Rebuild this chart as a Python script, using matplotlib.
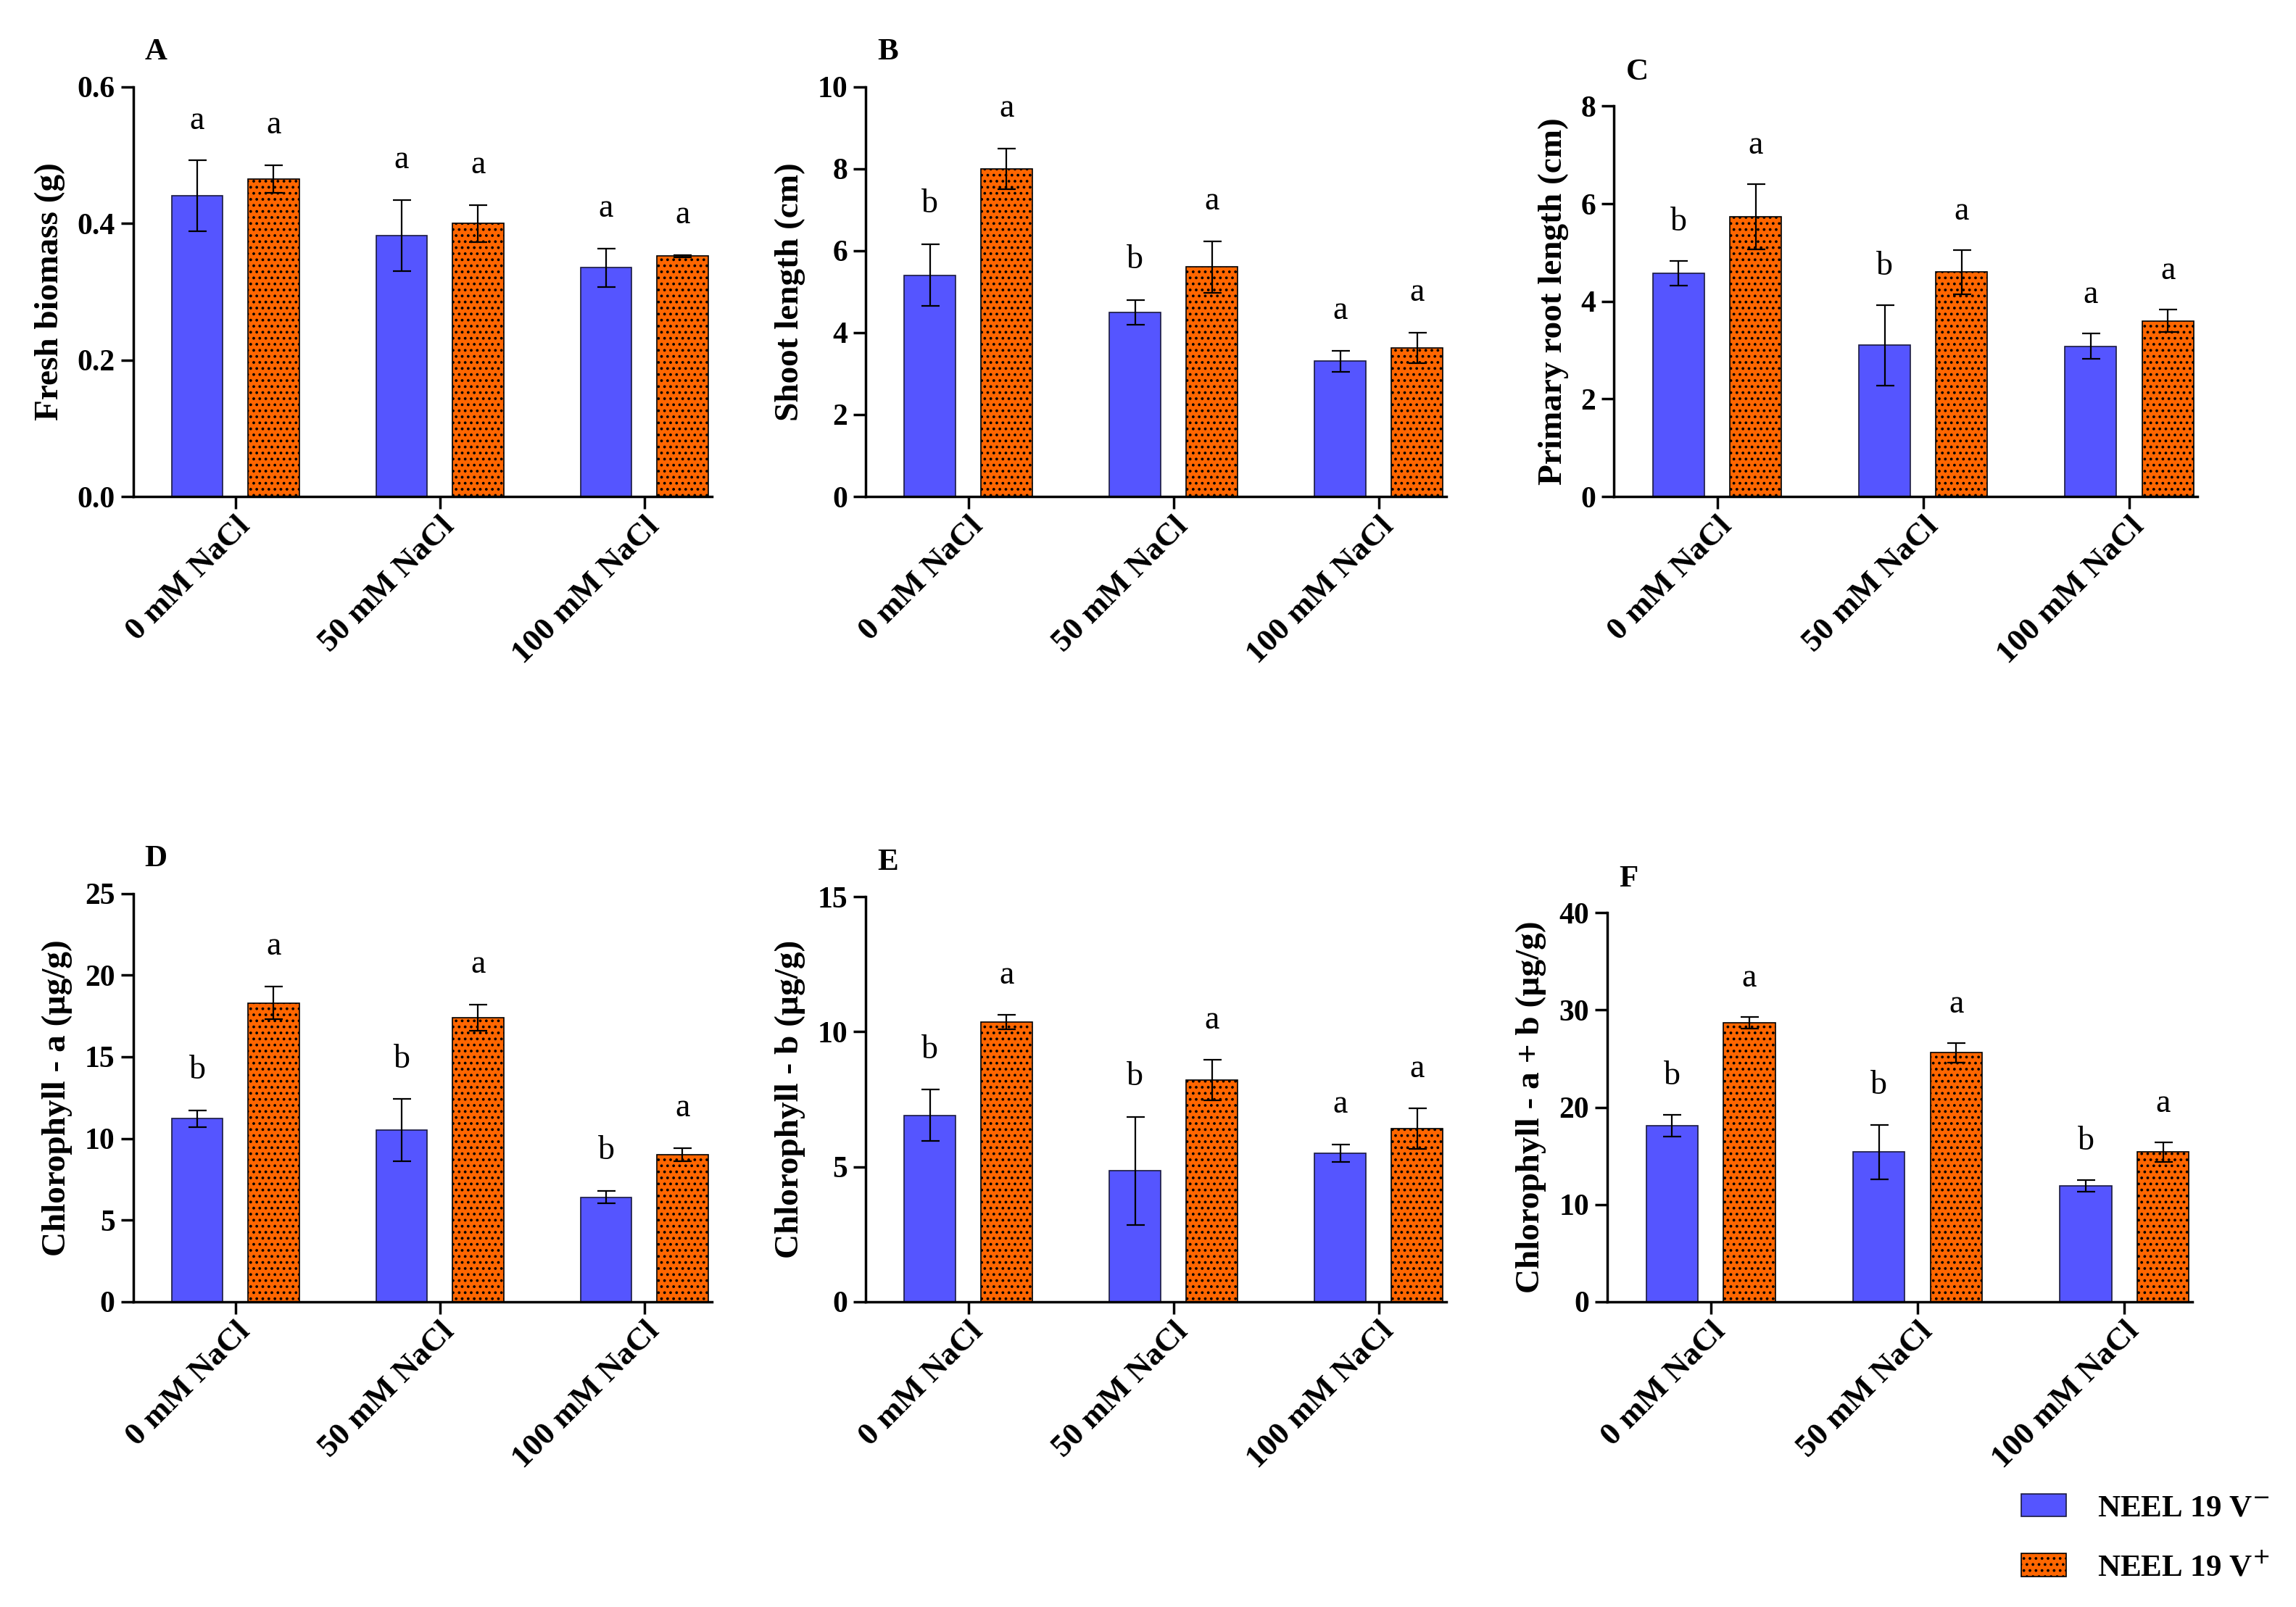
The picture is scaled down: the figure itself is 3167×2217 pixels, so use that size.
import matplotlib.pyplot as plt
import numpy as np
from matplotlib.patches import Patch

plt.rcParams['font.family'] = ['Liberation Serif', 'DejaVu Serif']
plt.rcParams['hatch.color'] = 'black'
plt.rcParams['hatch.linewidth'] = 1.5

groups = ['0 mM NaCl', '50 mM NaCl', '100 mM NaCl']
series = ['NEEL 19 V$^{-}$', 'NEEL 19 V$^{+}$']
blue = '#5555FF'
orange = '#FF6600'

# panel data: mean and error for V- and V+
fresh_neg = [0.44, 0.382, 0.335]
fresh_neg_err = [0.052, 0.052, 0.028]
fresh_pos = [0.465, 0.400, 0.352]
fresh_pos_err = [0.020, 0.027, 0.002]

shoot_neg = [5.4, 4.5, 3.3]
shoot_neg_err = [0.75, 0.30, 0.25]
shoot_pos = [8.0, 5.6, 3.63]
shoot_pos_err = [0.50, 0.62, 0.37]

root_neg = [4.57, 3.1, 3.08]
root_neg_err = [0.25, 0.82, 0.26]
root_pos = [5.73, 4.6, 3.6]
root_pos_err = [0.67, 0.45, 0.23]

chla_neg = [11.2, 10.5, 6.4]
chla_neg_err = [0.5, 1.9, 0.37]
chla_pos = [18.3, 17.4, 9.0]
chla_pos_err = [1.0, 0.8, 0.4]

chlb_neg = [6.9, 4.85, 5.5]
chlb_neg_err = [0.95, 2.0, 0.33]
chlb_pos = [10.35, 8.2, 6.4]
chlb_pos_err = [0.27, 0.75, 0.75]

chlab_neg = [18.1, 15.4, 11.9]
chlab_neg_err = [1.1, 2.8, 0.6]
chlab_pos = [28.7, 25.6, 15.4]
chlab_pos_err = [0.6, 1.0, 1.0]

letters_A = [['a', 'a'], ['a', 'a'], ['a', 'a']]
letters_B = [['b', 'a'], ['b', 'a'], ['a', 'a']]
letters_C = [['b', 'a'], ['b', 'a'], ['a', 'a']]
letters_D = [['b', 'a'], ['b', 'a'], ['b', 'a']]
letters_E = [['b', 'a'], ['b', 'a'], ['a', 'a']]
letters_F = [['b', 'a'], ['b', 'a'], ['b', 'a']]

fig = plt.figure(figsize=(31.67, 22.17), dpi=100)

# [left, bottom, width, height], tag, ylabel, yticks, data...
panels = [
    ([0.058, 0.691, 0.252, 0.255], 'A', 'Fresh biomass (g)', [0, 0.2, 0.4, 0.6], '%.1f',
     fresh_neg, fresh_neg_err, fresh_pos, fresh_pos_err, letters_A),
    ([0.377, 0.691, 0.253, 0.255], 'B', 'Shoot length (cm)', [0, 2, 4, 6, 8, 10], '%d',
     shoot_neg, shoot_neg_err, shoot_pos, shoot_pos_err, letters_B),
    ([0.703, 0.691, 0.254, 0.243], 'C', 'Primary root length (cm)', [0, 2, 4, 6, 8], '%d',
     root_neg, root_neg_err, root_pos, root_pos_err, letters_C),
    ([0.058, 0.190, 0.252, 0.254], 'D', 'Chlorophyll - a (µg/g)', [0, 5, 10, 15, 20, 25], '%d',
     chla_neg, chla_neg_err, chla_pos, chla_pos_err, letters_D),
    ([0.377, 0.190, 0.253, 0.252], 'E', 'Chlorophyll - b (µg/g)', [0, 5, 10, 15], '%d',
     chlb_neg, chlb_neg_err, chlb_pos, chlb_pos_err, letters_E),
    ([0.700, 0.190, 0.255, 0.242], 'F', 'Chlorophyll - a + b (µg/g)', [0, 10, 20, 30, 40], '%d',
     chlab_neg, chlab_neg_err, chlab_pos, chlab_pos_err, letters_F),
]

x = np.arange(len(groups))
w = 0.25
off = 0.187

for rect, tag, ylab, yt, fmt, neg, nerr, pos, perr, lets in panels:
    ax = fig.add_axes(rect)
    ax.bar(x - off, neg, w, color=blue, edgecolor='#1a1a40', linewidth=1.2, zorder=2)
    ax.bar(x + off, pos, w, color=orange, edgecolor='black', linewidth=1.2,
           hatch='..', zorder=2)
    ax.errorbar(x - off, neg, yerr=nerr, fmt='none', ecolor='black',
                elinewidth=1.6, capsize=9, capthick=1.6, zorder=3)
    ax.errorbar(x + off, pos, yerr=perr, fmt='none', ecolor='black',
                elinewidth=1.6, capsize=9, capthick=1.6, zorder=3)

    top = yt[-1]
    for i in range(len(groups)):
        ax.text(x[i] - off, neg[i] + nerr[i] + top * 0.06, lets[i][0],
                ha='center', va='bottom', fontsize=33)
        ax.text(x[i] + off, pos[i] + perr[i] + top * 0.06, lets[i][1],
                ha='center', va='bottom', fontsize=33)

    ax.set_xlim(-0.5, 2.33)
    ax.set_ylim(0, top)
    ax.set_yticks(yt)
    ax.set_yticklabels([fmt % v for v in yt], fontsize=30, fontweight='bold')
    ax.set_xticks(x)
    ax.set_xticklabels(groups, rotation=45, ha='right', rotation_mode='anchor',
                       fontsize=32, fontweight='bold')
    ax.set_ylabel(ylab, fontsize=34, fontweight='bold', labelpad=12)
    for s in ['top', 'right']:
        ax.spines[s].set_visible(False)
    for s in ['left', 'bottom']:
        ax.spines[s].set_linewidth(2.5)
    ax.tick_params(axis='both', width=2.5, length=12, pad=6)
    ax.tick_params(axis='x', pad=3)
    ax.text(0.02, 1.05, tag, transform=ax.transAxes, fontsize=31,
            fontweight='bold', ha='left', va='bottom')

handles = [Patch(facecolor=blue, edgecolor='#1a1a40', linewidth=1.2),
           Patch(facecolor=orange, edgecolor='black', linewidth=1.2, hatch='..')]
fig.legend(handles, series, loc='upper left', bbox_to_anchor=(0.868, 0.088),
           frameon=False, prop={'size': 31, 'weight': 'bold'},
           handlelength=1.45, handleheight=0.75, handletextpad=1.0, labelspacing=1.0)

fig.savefig('out.png', dpi=100)
